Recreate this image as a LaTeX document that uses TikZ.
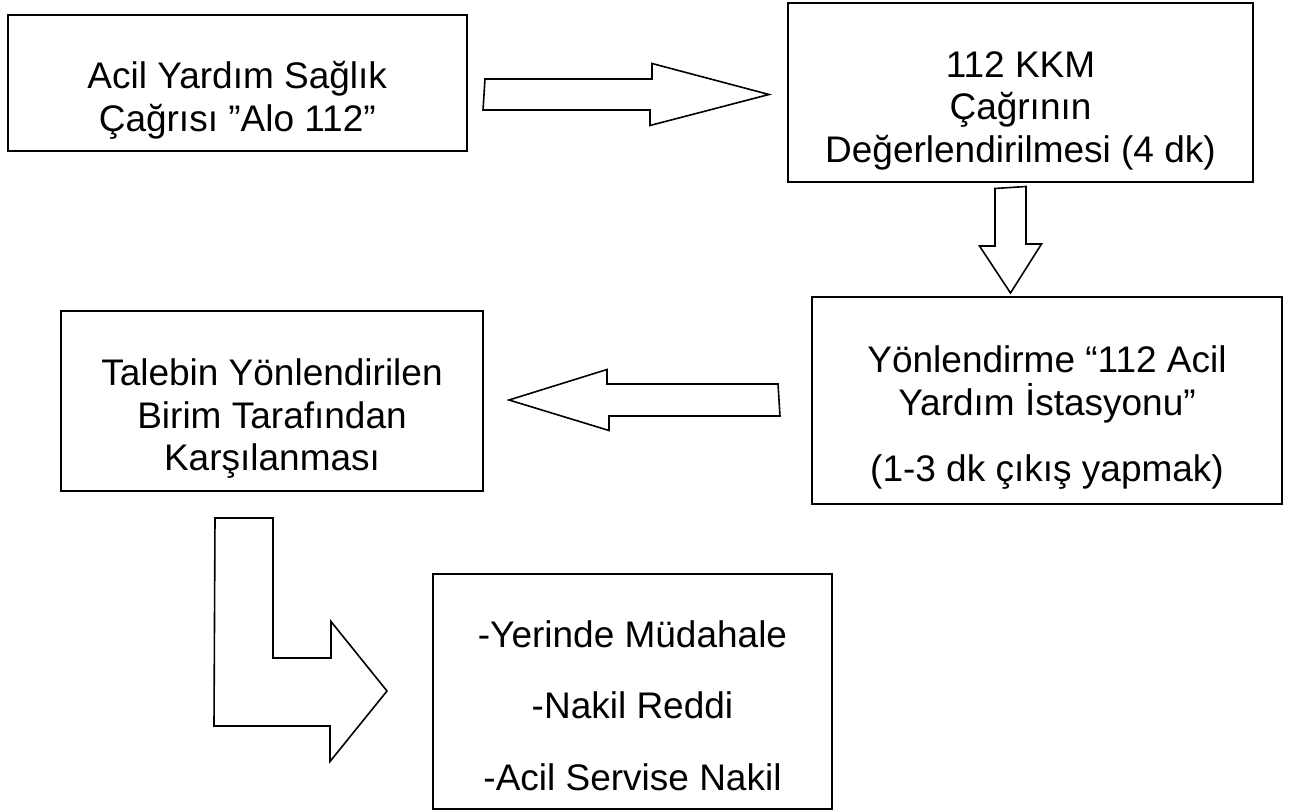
\documentclass[tikz,border=0pt]{standalone}
\usepackage{fontspec}
\setmainfont{Liberation Sans}
\usetikzlibrary{calc}
\newcommand{\topgap}[1][31pt]{\rule{0pt}{#1}}

\begin{document}
\begin{tikzpicture}[
  x=0.5pt, y=-0.5pt,
  box/.style={draw, line width=1pt, inner sep=0pt, align=center,
    font=\fontsize{18.5pt}{21.3pt}\selectfont},
  blk/.style={draw, line width=0.8pt, fill=white, line join=miter}
]
\useasboundingbox (0,0) rectangle (1297,812);

\node[box, minimum width=229.75pt, minimum height=68pt] (call) at (237.25,83) {\topgap Acil Yardım Sağlık\\Çağrısı ”Alo 112”};
\node[box, minimum width=232.5pt, minimum height=89.5pt] (kkm) at (1020.5,92.5) {\topgap 112 KKM\\Çağrının\\Değerlendirilmesi (4 dk)};
\node[box, minimum width=235pt, minimum height=103.5pt] (station) at (1047,400.5) {\topgap[30.3pt]Yönlendirme “112 Acil\\Yardım İstasyonu”\\[11.7pt](1-3 dk çıkış yapmak)};
\node[box, minimum width=211pt, minimum height=90pt] (unit) at (272,401) {\topgap Talebin Yönlendirilen\\Birim Tarafından\\Karşılanması};
\node[box, minimum width=199.5pt, minimum height=117.5pt] (result) at (632.5,691.5) {\topgap[27.5pt]-Yerinde Müdahale\\[14.4pt]-Nakil Reddi\\[14.4pt]-Acil Servise Nakil};

\coordinate (a1s) at ($(call.east)+(17,11.5)$);
\coordinate (a1e) at ($(kkm.west)+(-18,2)$);
\draw[blk] ($(a1s)+(0,-15.5)$) -- ++(167,0) -- ++(0,-15.5) -- (a1e) -- ++(-119,31) -- ++(0,-15.5) -- ++(-167,0) -- cycle;

\coordinate (a2s) at ($(kkm.south)+(-10,5.5)$);
\coordinate (a2e) at ($(station.north)+(-36.5,-3)$);
\draw[blk] ($(a2s)+(-15.5,0)$) -- ++(0,57.5) -- ++(-15.5,0) -- (a2e) -- ++(31,-49) -- ++(-15.5,0) -- ++(0,-57.5) -- cycle;

\coordinate (a3s) at ($(station.west)+(-33,-0.5)$);
\coordinate (a3e) at ($(unit.east)+(25,-1)$);
\draw[blk] ($(a3s)+(0,-16)$) -- ++(-171,0) -- ++(0,-14.5) -- (a3e) -- ++(100,30.5) -- ++(0,-14.5) -- ++(171,0) -- cycle;

\coordinate (a4s) at ($(unit.south)+(-28,26)$);
\coordinate (a4e) at ($(result.west)+(-45,-0.5)$);
\draw[blk] ($(a4s)+(-29,0)$) -- ++(58,0) -- ++(0,140) -- ++(58,0) -- ++(0,-36.5) -- (a4e) -- ++(-57,70.5) -- ++(0,-35.5) -- ++(-116,0) -- cycle;
\end{tikzpicture}
\end{document}
